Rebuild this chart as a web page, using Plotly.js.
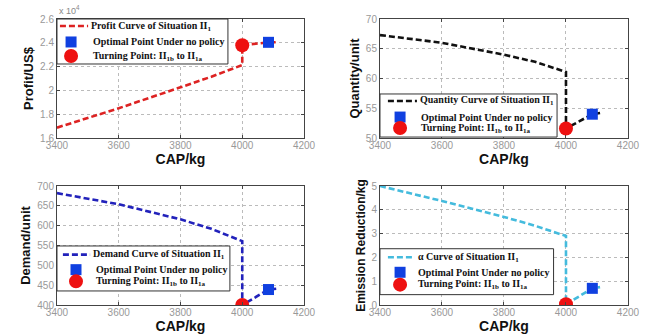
<!DOCTYPE html>
<html>
<head>
<meta charset="utf-8">
<script src="https://cdn.plot.ly/plotly-3.0.1.min.js"></script>
<style>html,body{margin:0;padding:0;background:#fff;}#chart{width:646px;height:334px;}</style>
</head>
<body>
<div id="chart"></div>
<script>
// ---- data ----
const cap = [3400, 3600, 3800, 3900, 4000, 4000, 4085, 4110];
const profit10k = [1.687, 1.85, 2.026, 2.115, 2.213, 2.38, 2.404, 2.404];
const quantity = [67.3, 66.0, 64.0, 62.8, 61.1, 51.6, 54.0, 54.2];
const demand = [682, 654, 616, 592, 561, 400, 439, 441];
const alpha = [5.0, 4.37, 3.70, 3.33, 2.9, 0.03, 0.70, 0.75];
const optCap = [4085];
const turnCap = [4000];
const optProfit = [2.404], turnProfit = [2.38];
const optQty = [54.0], turnQty = [51.6];
const optDemand = [439], turnDemand = [400];
const optAlpha = [0.70], turnAlpha = [0.03];
const xTicks = [3400, 3600, 3800, 4000, 4200];
const curveNames = [
  'Profit Curve of Situation II<sub>1</sub>',
  'Quantity Curve of Situation II<sub>1</sub>',
  'Demand Curve of Situation II<sub>1</sub>',
  'α Curve of Situation II<sub>1</sub>'
];
const optName = 'Optimal Point Under no policy';
const turnName = 'Turning Point: II<sub>1b</sub> to II<sub>1a</sub>';
const yTitles = ['Profit/US$', 'Quantity/unit', 'Demand/unit', 'Emission Reduction/kg'];

const curveColors = ['#dd2222', '#111111', '#2222bb', '#44bbdd'];
const sqColor = '#1040e0', circColor = '#ee1111';

const series = [profit10k, quantity, demand, alpha];
const opts = [optProfit, optQty, optDemand, optAlpha];
const turns = [turnProfit, turnQty, turnDemand, turnAlpha];

const traces = [];
for (let i = 0; i < 4; i++) {
  const sfx = i === 0 ? '' : String(i + 1);
  const xa = 'x' + sfx, ya = 'y' + sfx;
  traces.push({x: cap, y: series[i], xaxis: xa, yaxis: ya, mode: 'lines', showlegend: false,
    name: curveNames[i], line: {color: curveColors[i], width: 2.6, dash: '6px,3px'}});
  traces.push({x: optCap, y: opts[i], xaxis: xa, yaxis: ya, mode: 'markers', showlegend: false,
    name: optName, marker: {symbol: 'square', size: 11, color: sqColor}});
  traces.push({x: turnCap, y: turns[i], xaxis: xa, yaxis: ya, mode: 'markers', showlegend: false,
    name: turnName, marker: {symbol: 'circle', size: 14, color: circColor}});
}

const tickFont = {family: 'Liberation Sans, Arial, sans-serif', size: 10, color: '#999'};
const titleFont = {family: 'Liberation Sans, Arial, sans-serif', size: 14, color: '#111', weight: 'bold'};
const legFont = {family: 'Liberation Serif, Times New Roman, serif', size: 10, color: '#111', weight: 'bold'};

function xAxis(dom, anchor) {
  return {domain: dom, anchor: anchor, range: [3400, 4200], tickvals: xTicks, tickfont: tickFont,
    showgrid: true, gridcolor: '#bbb', griddash: 'dot', gridwidth: 1, zeroline: false,
    showline: true, mirror: 'ticks', linecolor: '#444', linewidth: 1, ticks: 'inside', ticklen: 3, tickcolor: '#444',
    ticklabelstandoff: -2,
    title: {text: 'CAP/kg', font: titleFont, standoff: 1}};
}
function yAxis(dom, anchor, range, dtick, title, tsize) {
  return {domain: dom, anchor: anchor, range: range, dtick: dtick, tickfont: tickFont,
    showgrid: true, gridcolor: '#bbb', griddash: 'dot', gridwidth: 1, zeroline: false,
    showline: true, mirror: 'ticks', linecolor: '#444', linewidth: 1, ticks: 'inside', ticklen: 3, tickcolor: '#444',
    title: {text: title, font: Object.assign({}, titleFont, {size: tsize}), standoff: 3}};
}
const leftX = [0.0882, 0.4706], rightX = [0.5882, 0.9721];
const topY = [0.5868, 0.9431], botY = [0.0868, 0.4431];

// legend boxes drawn inside each panel (axis-domain coordinates)
const shapes = [], annotations = [];
function addLegend(i, box, rows, line, markX, textX) {
  const sfx = i === 0 ? '' : String(i + 1);
  const xr = 'x' + sfx + ' domain', yr = 'y' + sfx + ' domain';
  shapes.push({type: 'rect', xref: xr, yref: yr, x0: box[0], x1: box[1], y0: box[2], y1: box[3],
    fillcolor: '#fff', line: {color: '#333', width: 1}, layer: 'above'});
  shapes.push({type: 'line', xref: xr, yref: yr, x0: line[0], x1: line[1], y0: rows[0], y1: rows[0],
    line: {color: curveColors[i], width: 2.6, dash: '6px,3px'}, layer: 'above'});
  shapes.push({type: 'rect', xref: xr, yref: yr, xsizemode: 'pixel', ysizemode: 'pixel',
    xanchor: markX, yanchor: rows[1], x0: -5.5, x1: 5.5, y0: -5.5, y1: 5.5,
    fillcolor: sqColor, line: {width: 0}, layer: 'above'});
  shapes.push({type: 'circle', xref: xr, yref: yr, xsizemode: 'pixel', ysizemode: 'pixel',
    xanchor: markX, yanchor: rows[2], x0: -7, x1: 7, y0: -7, y1: 7,
    fillcolor: circColor, line: {width: 0}, layer: 'above'});
  const names = [curveNames[i], optName, turnName];
  for (let r = 0; r < 3; r++) {
    annotations.push({xref: xr, yref: yr, x: r === 0 ? line[1] + 0.004 : textX, y: rows[r],
      xanchor: 'left', yanchor: 'middle', showarrow: false, text: names[r], font: legFont});
  }
}
addLegend(0, [0.0, 0.692, 0.622, 1.0], [0.941, 0.807, 0.689], [0.012, 0.126], 0.057, 0.136);
addLegend(1, [0.0, 0.714, 0.008, 0.37], [0.311, 0.176, 0.084], [0.032, 0.149], 0.081, 0.157);
addLegend(2, [0.0, 0.70, 0.118, 0.496], [0.423, 0.297, 0.199], [0.024, 0.134], 0.077, 0.150);
addLegend(3, [0.0, 0.70, 0.087, 0.473], [0.401, 0.275, 0.171], [0.032, 0.141], 0.081, 0.145);

annotations.push({xref: 'paper', yref: 'paper', x: 0.0882, y: 0.945, xanchor: 'left', yanchor: 'bottom',
  showarrow: false, text: 'x 10<sup>4</sup>', font: {family: 'Liberation Sans, Arial, sans-serif', size: 9, color: '#888'}});

const layout = {
  width: 646, height: 334, margin: {l: 0, r: 0, t: 0, b: 0},
  paper_bgcolor: '#fff', plot_bgcolor: '#fff', showlegend: false,
  xaxis: xAxis(leftX, 'y'), yaxis: yAxis(topY, 'x', [1.6, 2.6], 0.2, yTitles[0], 13),
  xaxis2: xAxis(rightX, 'y2'), yaxis2: yAxis(topY, 'x2', [50, 70], 5, yTitles[1], 13),
  xaxis3: xAxis(leftX, 'y3'), yaxis3: yAxis(botY, 'x3', [400, 700], 50, yTitles[2], 13),
  xaxis4: xAxis(rightX, 'y4'), yaxis4: yAxis(botY, 'x4', [0, 5], 1, yTitles[3], 12),
  shapes: shapes,
  annotations: annotations
};

Plotly.newPlot('chart', traces, layout, {displayModeBar: false, staticPlot: true});
</script>
</body>
</html>
